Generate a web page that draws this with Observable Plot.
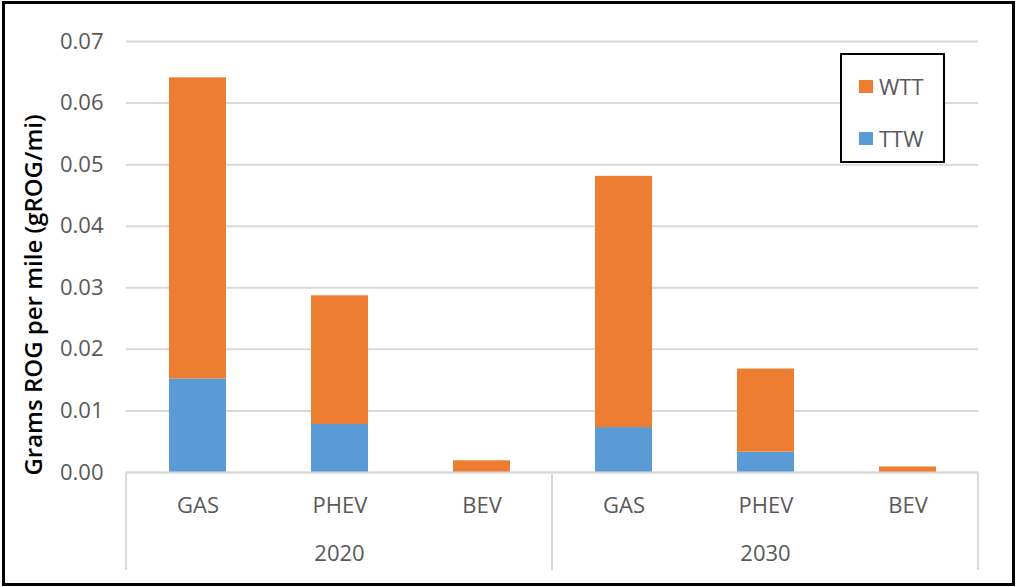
<!DOCTYPE html>
<html>
<head>
<meta charset="utf-8">
<script src="https://cdn.jsdelivr.net/npm/d3@7"></script>
<script src="https://cdn.jsdelivr.net/npm/@observablehq/plot@0.6"></script>
<style>
  html, body { margin: 0; padding: 0; background: #fff; }
  #wrap { position: relative; width: 1017px; height: 587px; overflow: hidden; font-family: "Open Sans", sans-serif; }
  #frame { position: absolute; left: 2px; top: 1px; width: 1007px; height: 579px; border: 3px solid #000; pointer-events: none; }
  #legend { position: absolute; left: 840px; top: 53px; width: 101px; height: 106px; border: 2px solid #000; background: #fff; }
  .item { position: absolute; left: 17px; display: flex; align-items: center; font-size: 22px; color: #595959; line-height: 1; }
  .sw { width: 14px; height: 13px; margin-right: 6px; }
  #ytitle { position: absolute; left: 33px; top: 295px; transform: translate(-50%, -50%) rotate(-90deg);
            white-space: nowrap; font-size: 24px; font-weight: 600; color: #000; line-height: 1; }
</style>
</head>
<body>
<div id="wrap"></div>
<script>
const years = ["2020", "2030"];
const types = ["GAS", "PHEV", "BEV"];
const seriesNames = ["WTT", "TTW"];
const seriesColors = ["#ED7D31", "#5B9BD5"];
const ttw2020 = [0.0152, 0.0078, 0.0000];
const wtt2020 = [0.0489, 0.0209, 0.0019];
const ttw2030 = [0.0073, 0.0033, 0.0000];
const wtt2030 = [0.0408, 0.0135, 0.0009];
const yTicks = [0, 0.01, 0.02, 0.03, 0.04, 0.05, 0.06, 0.07];
const yTitle = "Grams ROG per mile (gROG/mi)";

const rows = [];
const byYear = {"2020": {TTW: ttw2020, WTT: wtt2020}, "2030": {TTW: ttw2030, WTT: wtt2030}};
for (const yr of years) {
  types.forEach((t, i) => {
    rows.push({year: yr, type: t, series: "TTW", value: byYear[yr].TTW[i]});
    rows.push({year: yr, type: t, series: "WTT", value: byYear[yr].WTT[i]});
  });
}

const W = 1017, H = 587;
const plot = Plot.plot({
  width: W, height: H,
  marginLeft: 125, marginRight: 39, marginTop: 41, marginBottom: 115,
  style: {fontFamily: "'Open Sans', sans-serif", fontSize: "22px", color: "#595959", background: "transparent"},
  fx: {domain: years, padding: 0},
  x: {domain: types, paddingInner: 0.6, paddingOuter: 0.3},
  y: {domain: [0, 0.07]},
  color: {domain: seriesNames, range: seriesColors},
  marks: [
    Plot.gridY(yTicks, {stroke: "#d9d9d9", strokeOpacity: 1, strokeWidth: 2}),
    Plot.barY(rows, {fx: "year", x: "type", y: "value", fill: "series", order: ["TTW", "WTT"]}),
    Plot.ruleY([0], {stroke: "#d9d9d9", strokeWidth: 2}),
    Plot.axisY({ticks: yTicks, tickSize: 0, tickPadding: 23, tickFormat: d3.format(".2f"), label: null}),
    Plot.axisX({tickSize: 0, tickPadding: 25, label: null}),
    Plot.axisFx({anchor: "bottom", tickSize: 0, tickPadding: 73, label: null})
  ]
});

const wrap = document.getElementById("wrap");
wrap.appendChild(plot);

// group separators below the axis, placed through the fx and y scales
const fx = plot.scale("fx"), ys = plot.scale("y");
const y0 = ys.apply(0);
const edges = years.map(yr => fx.apply(yr)).concat([fx.apply(years[years.length - 1]) + fx.bandwidth]);
const svg = d3.select(plot.tagName.toLowerCase() === "svg" ? plot : plot.querySelector("svg"));
svg.append("g").selectAll("line").data(edges).join("line")
  .attr("x1", d => d).attr("x2", d => d)
  .attr("y1", y0).attr("y2", y0 + 98)
  .attr("stroke", "#d9d9d9").attr("stroke-width", 2);

// y-axis title
const yt = document.createElement("div");
yt.id = "ytitle";
yt.textContent = yTitle;
wrap.appendChild(yt);

// legend
const lg = document.createElement("div");
lg.id = "legend";
const cs = plot.scale("color");
seriesNames.forEach((s, i) => {
  const it = document.createElement("div");
  it.className = "item";
  it.style.top = (i === 0 ? 20 : 72) + "px";
  const sw = document.createElement("div");
  sw.className = "sw";
  sw.style.background = cs.apply(s);
  const tx = document.createElement("span");
  tx.textContent = s;
  it.appendChild(sw); it.appendChild(tx);
  lg.appendChild(it);
});
wrap.appendChild(lg);

const fr = document.createElement("div");
fr.id = "frame";
wrap.appendChild(fr);
</script>
</body>
</html>
